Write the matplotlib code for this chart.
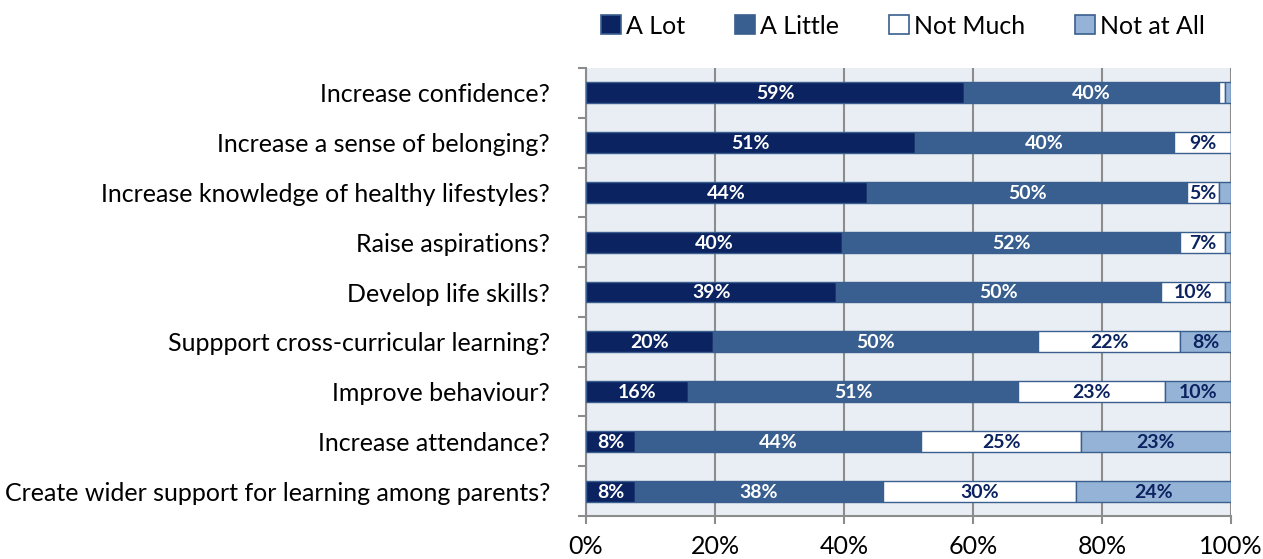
import numpy as np
import matplotlib
matplotlib.use("Agg")
import matplotlib.pyplot as plt
from matplotlib.patches import Patch

# 数据
questions = [
    "Increase confidence?",
    "Increase a sense of belonging?",
    "Increase knowledge of healthy lifestyles?",
    "Raise aspirations?",
    "Develop life skills?",
    "Suppport cross-curricular learning?",
    "Improve behaviour?",
    "Increase attendance?",
    "Create wider support for learning among parents?",
]
a_lot = [58.6, 51.0, 43.6, 39.7, 38.8, 19.7, 15.8, 7.6, 7.6]
a_little = [39.6, 40.2, 49.6, 52.4, 50.3, 50.4, 51.2, 44.4, 38.4]
not_much = [0.9, 8.8, 4.9, 6.9, 9.9, 22.0, 22.8, 24.7, 30.0]
not_at_all = [0.9, 0.0, 1.9, 1.0, 1.0, 7.9, 10.2, 23.3, 24.0]
series_names = ["A Lot", "A Little", "Not Much", "Not at All"]
x_ticks = [0, 20, 40, 60, 80, 100]

# 样式
colors = ["#0b2360", "#385f8f", "#ffffff", "#95b3d7"]
label_colors = ["white", "white", "#0b2360", "#0b2360"]
edge_color = "#3a5f8f"
bg_color = "#e9edf4"
grid_color = "#8c8c8c"
font_name = "Lato"
tick_size = 18
label_size = 14
bar_height = 0.42

plt.rcParams["font.family"] = [font_name, "DejaVu Sans"]

fig = plt.figure(figsize=(12.63, 5.59), dpi=100)
ax = fig.add_axes([586 / 1263, 1 - 516 / 559, (1231 - 586) / 1263, (516 - 68) / 559])
ax.set_facecolor(bg_color)

y = np.arange(len(questions))
data = [np.array(a_lot), np.array(a_little), np.array(not_much), np.array(not_at_all)]
left = np.zeros(len(questions))
for i, vals in enumerate(data):
    ax.barh(y, vals, left=left, height=bar_height, color=colors[i],
            edgecolor=edge_color, linewidth=1, zorder=3)
    for j, v in enumerate(vals):
        if v >= 3:
            ax.text(left[j] + v / 2, y[j] + 0.02, f"{v:.0f}%", ha="center", va="center",
                    color=label_colors[i], fontsize=label_size, fontweight="bold", zorder=4)
    left = left + vals

ax.set_xlim(0, 100)
ax.set_ylim(len(questions) - 0.5, -0.5)
ax.set_xticks(x_ticks)
ax.set_xticklabels([f"{t}%" for t in x_ticks], fontsize=tick_size)
ax.set_yticks(y)
ax.set_yticklabels(questions, fontsize=tick_size)
ax.set_yticks(np.arange(-0.5, len(questions), 1), minor=True)
ax.tick_params(axis="y", which="major", length=0, pad=26)
ax.tick_params(axis="y", which="minor", length=6, color=grid_color, width=1.5)
ax.tick_params(axis="x", length=6, color=grid_color, width=1.5, pad=8)

ax.xaxis.grid(True, color=grid_color, linewidth=1.5, zorder=0)
ax.set_axisbelow(True)
for s in ["top", "right"]:
    ax.spines[s].set_visible(False)
for s in ["left", "bottom"]:
    ax.spines[s].set_color(grid_color)
    ax.spines[s].set_linewidth(1.5)

handles = [Patch(facecolor=colors[i], edgecolor=edge_color, linewidth=1.2) for i in range(4)]
fig.legend(handles, series_names, loc="center", bbox_to_anchor=(903 / 1263, 1 - 26 / 559),
           ncol=4, frameon=False, fontsize=tick_size, handlelength=0.8, handleheight=0.8,
           handletextpad=0.2, columnspacing=2.0)

plt.savefig("out.png", dpi=100)
plt.close()
